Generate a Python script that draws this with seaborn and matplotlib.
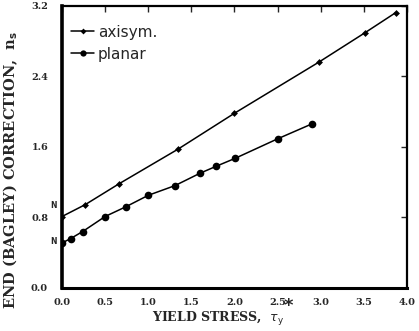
import matplotlib
matplotlib.use("Agg")
import matplotlib.pyplot as plt
import seaborn as sns
import pandas as pd

# End (Bagley) correction vs. dimensionless yield stress
axisym_x = [0.0, 0.27, 0.66, 1.34, 2.0, 2.98, 3.51, 3.87]
axisym_y = [0.81, 0.945, 1.18, 1.57, 1.98, 2.56, 2.89, 3.12]
planar_x = [0.0, 0.10, 0.24, 0.50, 0.74, 1.0, 1.31, 1.60, 1.79, 2.01, 2.50, 2.90]
planar_y = [0.51, 0.56, 0.64, 0.81, 0.92, 1.05, 1.16, 1.30, 1.38, 1.47, 1.69, 1.86]
series_names = ["axisym.", "planar"]
x_ticks = [0.0, 0.5, 1.0, 1.5, 2.0, 2.5, 3.0, 3.5, 4.0]
y_ticks = [0.0, 0.8, 1.6, 2.4, 3.2]

df = pd.DataFrame({
    "x": axisym_x + planar_x,
    "y": axisym_y + planar_y,
    "series": [series_names[0]] * len(axisym_x) + [series_names[1]] * len(planar_x),
})

sns.set_style("white")
fig = plt.figure(figsize=(4.19, 3.31), dpi=100)
ax = fig.add_axes([0.148, 0.130, 0.823, 0.853])

sns.lineplot(data=df, x="x", y="y", hue="series", style="series",
             palette={"axisym.": "black", "planar": "black"},
             markers={"axisym.": "D", "planar": "o"},
             dashes=False, linewidth=1.1, markeredgewidth=0,
             sort=False, ax=ax, legend=True)

# marker sizes differ per series
for line, ms in zip(ax.lines[:2], [3.5, 5.5]):
    line.set_markersize(ms)

ax.set_xlim(0, 4.0)
ax.set_ylim(0, 3.2)
ax.set_xticks(x_ticks)
ax.set_yticks(y_ticks)
ax.set_xticklabels([f"{t:.1f}" for t in x_ticks])
ax.set_yticklabels([f"{t:.1f}" for t in y_ticks])
ax.tick_params(direction="in", length=4, width=1, top=True, right=True,
               labelsize=7)
ax.tick_params(axis="x", pad=7)
ax.tick_params(axis="y", pad=10)
for lbl in ax.get_xticklabels() + ax.get_yticklabels():
    lbl.set_fontfamily("DejaVu Serif")
    lbl.set_fontweight("bold")

for side, lw in [("left", 2.6), ("bottom", 2.2), ("top", 1.6), ("right", 1.6)]:
    ax.spines[side].set_visible(True)
    ax.spines[side].set_color("black")
    ax.spines[side].set_linewidth(lw)

ax.set_xlabel(r"YIELD STRESS,  $\tau_\mathrm{y}$", fontfamily="DejaVu Serif",
              fontweight="bold", fontsize=9)
ax.xaxis.set_label_coords(0.452, -0.078)
ax.set_ylabel(r"END (BAGLEY) CORRECTION,  n$_\mathbf{s}$", fontfamily="DejaVu Serif",
              fontweight="bold", fontsize=10.5)
ax.yaxis.set_label_coords(-0.122, 0.418)
fig.text(288 / 419, 1 - 306 / 331, "*", fontsize=13, fontweight="bold",
         ha="center", va="center")

# "N" marks at the intercepts
ax.text(-0.1, 0.94, "N", fontsize=5.5, fontweight="bold", ha="center", va="center",
        fontfamily="DejaVu Sans", clip_on=False)
ax.text(-0.1, 0.53, "N", fontsize=5.5, fontweight="bold", ha="center", va="center",
        fontfamily="DejaVu Sans", clip_on=False)

leg = ax.legend(loc="upper left", frameon=False, fontsize=11, handlelength=1.5,
                handletextpad=0.25, labelspacing=0.45, borderaxespad=0.2,
                bbox_to_anchor=(0.0, 0.965))
for t in leg.get_texts():
    t.set_fontfamily("DejaVu Sans")
for h, ms in zip(leg.get_lines(), [3.0, 4.5]):
    h.set_markersize(ms)

fig.savefig("out.png", dpi=100)
